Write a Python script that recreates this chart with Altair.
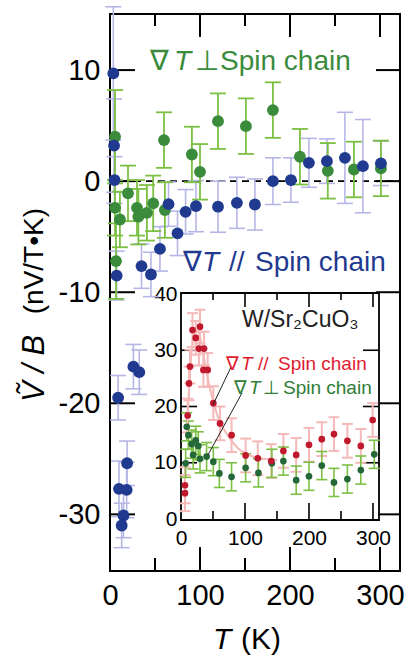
import altair as alt
import pandas as pd

# ---------------- main panel data ----------------
blue_T = [3.7, 4.5, 5.0, 7.4, 9.0, 26.0, 32.5, 19.0, 10.0, 18.5, 15.0, 13.0, 35.0, 45.5, 55.5,
          65.0, 75.0, 84.0, 95.5, 120.0, 141.0, 161.0, 181.0, 201.0, 221.0, 241.0, 261.0, 281.0, 301.0]
blue_V = [9.7, 3.2, 0.1, -8.5, -19.5, -16.7, -17.2, -25.4, -27.7, -27.8, -30.1, -31.0, -7.65, -8.4, -6.1,
          -2.07, -4.7, -2.76, -2.25, -2.3, -1.95, -2.1, 0.0, 0.1, 1.65, 1.8, 2.1, 1.35, 1.6]
blue_err = [6.0, 4.2, 2.1, 2.2, 2.0, 2.0, 2.0, 2.0, 2.5, 2.5, 2.0, 2.0, 2.0, 2.0, 2.0,
            2.0, 2.0, 2.0, 2.3, 2.3, 2.3, 2.3, 2.1, 2.0, 2.2, 2.0, 4.1, 4.2, 2.0]

green_T = [5.6, 5.6, 6.7, 11.0, 20.0, 30.0, 31.5, 41.0, 48.0, 61.0, 60.0, 91.0, 100.0, 120.0, 151.0,
           181.0, 211.0, 242.0, 271.0, 301.0]
green_V = [4.0, -2.4, -7.2, -3.45, -1.1, -2.4, -3.2, -2.85, -2.0, -2.6, 3.7, 2.4, 0.84, 5.4, 4.95,
           6.4, 2.2, 0.93, 1.05, 1.15]
green_err = [4.2, 2.5, 3.4, 2.5, 2.5, 2.5, 2.5, 2.5, 2.5, 2.5, 2.5, 2.5, 2.5, 2.5, 2.5,
             2.5, 2.5, 2.5, 2.5, 2.5]

# ---------------- inset data (W/Sr2CuO3) ----------------
red_T = [6.2, 6.2, 10.4, 12.5, 14.0, 18.0, 23.0, 28.0, 29.7, 35.0, 36.0, 41.7, 50.5, 61.0, 79.0,
         101.0, 120.0, 141.0, 160.0, 180.0, 200.0, 220.0, 239.0, 260.0, 281.0, 299.5]
red_V = [6.0, 4.6, 18.4, 24.1, 27.1, 33.6, 32.2, 30.3, 34.2, 26.5, 30.3, 26.5, 20.6, 17.0, 14.9,
         11.3, 10.8, 10.3, 12.1, 11.4, 13.2, 14.2, 15.1, 13.9, 13.0, 17.6]
red_err = [3.2, 3.2, 3.0, 3.0, 3.0, 3.0, 3.0, 3.0, 3.0, 3.0, 3.0, 3.0, 3.0, 3.0, 3.0,
           3.0, 3.0, 3.0, 3.0, 3.0, 3.0, 3.0, 3.0, 3.0, 3.0, 3.0]

ig_T = [7.3, 9.0, 11.5, 16.7, 19.0, 23.0, 27.0, 29.7, 40.0, 50.5, 60.0, 79.0, 101.0, 121.0, 142.0,
        160.0, 180.0, 200.0, 220.0, 239.0, 260.0, 281.0, 302.0]
ig_V = [9.9, 16.4, 14.9, 13.3, 11.4, 14.0, 13.0, 10.7, 11.1, 10.2, 8.1, 7.5, 9.1, 8.2, 9.9,
        10.3, 6.9, 7.6, 9.5, 6.5, 7.1, 8.7, 11.5]
ig_err = [2.5, 2.5, 2.5, 2.5, 2.5, 2.5, 2.5, 2.5, 2.5, 2.5, 2.5, 2.5, 2.5, 2.5, 2.5,
          2.5, 2.5, 2.5, 2.5, 2.5, 2.5, 2.5, 2.5]

guide_T = [9, 12, 16, 21, 27, 33, 40, 50, 60, 75, 90, 110, 130, 150]
guide_V = [15, 22, 29, 33, 33.5, 30.5, 26, 21, 17.5, 14.5, 12.5, 11.2, 10.7, 10.5]

# leader lines (inset coordinates)
lead_T0 = [78.1, 95.3]
lead_V0 = [27.0, 22.4]
lead_T1 = [50.0, 42.2]
lead_V1 = [20.3, 11.4]

# ticks / labels
main_x_labels = [0, 100, 200, 300]
main_x_major = [100, 200, 300]
main_x_minor = [50, 150, 250]
main_y_labels = [10, 0, -10, -20, -30]
zero_line = [0]
ins_x_labels = [0, 100, 200, 300]
ins_x_major = [100, 200, 300]
ins_x_minor = [50, 150, 250]
ins_y_labels = [0, 10, 20, 30, 40]
ins_y_major = [10, 20, 30]

# ---------------- styling ----------------
W, H = 290, 557
FONT = "Liberation Sans"
BLUE = "#1f3a8f"
LAV = "#b6b6e6"
GREEN = "#3a8b3c"
LGREEN = "#7cc043"
RED = "#c0182d"
PINK = "#f5b9b9"
DGREEN = "#24683a"

main_x = alt.Scale(domain=[0, 322.2], nice=False, zero=False)
main_y = alt.Scale(domain=[-35.1, 15.05], nice=False, zero=False)
INS_XD = [0, 309.4]
INS_YD = [-0.18, 40.18]
ins_x = alt.Scale(domain=[0, 309.4], range=[71, 269], nice=False, zero=False)
ins_y = alt.Scale(domain=[0, 40], range=[505, 280], nice=False, zero=False)


def series_df(T, V, E):
    return pd.DataFrame({"T": T, "V": V,
                         "lo": [v - e for v, e in zip(V, E)],
                         "hi": [v + e for v, e in zip(V, E)]})


def errbars(df, xs, ys, color, cap, sw):
    base = alt.Chart(df)
    X = alt.X("T:Q", scale=xs, axis=None)
    rule = base.mark_rule(color=color, strokeWidth=sw).encode(
        x=X, y=alt.Y("lo:Q", scale=ys, axis=None), y2="hi:Q")
    top = base.mark_tick(color=color, orient="horizontal", size=cap, thickness=sw, opacity=1).encode(
        x=X, y=alt.Y("hi:Q", scale=ys, axis=None))
    bot = base.mark_tick(color=color, orient="horizontal", size=cap, thickness=sw, opacity=1).encode(
        x=X, y=alt.Y("lo:Q", scale=ys, axis=None))
    return [rule, top, bot]


def points(df, xs, ys, color, size, xaxis=None, yaxis=None):
    return alt.Chart(df).mark_circle(color=color, size=size, opacity=1).encode(
        x=alt.X("T:Q", scale=xs, axis=xaxis), y=alt.Y("V:Q", scale=ys, axis=yaxis))


def txt(s, x, y, size, color="black", italic=False, align="left", angle=0):
    return alt.Chart(pd.DataFrame({"s": [s]})).mark_text(
        align=align, baseline="middle", fontSize=size, color=color, font=FONT,
        fontStyle="italic" if italic else "normal", angle=angle).encode(
        x=alt.value(x), y=alt.value(y), text="s:N")


def xticks(vals, xs, y0, y1, sw=2):
    return alt.Chart(pd.DataFrame({"t": vals})).mark_rule(color="black", strokeWidth=sw).encode(
        x=alt.X("t:Q", scale=xs, axis=None), y=alt.value(y0), y2=alt.value(y1))


def yticks(vals, ys, x0, x1, sw=2):
    return alt.Chart(pd.DataFrame({"t": vals})).mark_rule(color="black", strokeWidth=sw).encode(
        y=alt.Y("t:Q", scale=ys, axis=None), x=alt.value(x0), x2=alt.value(x1))


blue_df = series_df(blue_T, blue_V, blue_err)
green_df = series_df(green_T, green_V, green_err)
red_df = series_df(red_T, red_V, red_err)
ig_df = series_df(ig_T, ig_V, ig_err)

layers = []
# main ticks (inward)
layers += [xticks(main_x_major, main_x, 0, 23), xticks(main_x_minor, main_x, 0, 12),
           xticks(main_x_major, main_x, H, H - 24), xticks(main_x_minor, main_x, H, H - 13),
           yticks(main_y_labels, main_y, 0, 25), yticks(main_y_labels, main_y, W, W - 24)]
# zero line
layers.append(alt.Chart(pd.DataFrame({"z": zero_line})).mark_rule(
    color="black", strokeWidth=1.6, strokeDash=[7, 5]).encode(
    y=alt.Y("z:Q", scale=main_y, axis=None), x=alt.value(0), x2=alt.value(W)))
# main data
layers += errbars(blue_df, main_x, main_y, LAV, 16, 1.6)
layers += errbars(green_df, main_x, main_y, LGREEN, 16, 1.8)
layers.append(points(green_df, main_x, main_y, GREEN, 140))
main_xaxis = alt.Axis(values=main_x_labels, ticks=False, domain=False, grid=False, labelFontSize=29,
                      labelFont=FONT, labelPadding=10, title=None, labelColor="black", labelFlush=False,
                      labelOverlap=False, labelExpr="'' + datum.value", orient="bottom")
main_yaxis = alt.Axis(values=main_y_labels, ticks=False, domain=False, grid=False, labelFontSize=29,
                      labelFont=FONT, labelPadding=10, title=None, labelColor="black", labelFlush=False,
                      labelOverlap=False, labelExpr="'' + datum.value", orient="left")
layers.append(points(blue_df, main_x, main_y, BLUE, 140, main_xaxis, main_yaxis))

# inset frame
frame_df = pd.DataFrame({"x0": [INS_XD[0]], "x1": [INS_XD[1]], "y0": [INS_YD[0]], "y1": [INS_YD[1]]})
layers.append(alt.Chart(frame_df).mark_rect(fill="white", stroke="black", strokeWidth=1.8).encode(
    x=alt.X("x0:Q", scale=ins_x, axis=None), x2="x1:Q",
    y=alt.Y("y0:Q", scale=ins_y, axis=None), y2="y1:Q"))
# inset ticks
layers += [xticks(ins_x_major, ins_x, 506, 489, 1.6), xticks(ins_x_minor, ins_x, 506, 497, 1.6),
           xticks(ins_x_major, ins_x, 279, 293, 1.6), xticks(ins_x_minor, ins_x, 279, 286, 1.6),
           yticks(ins_y_major, ins_y, 71, 87, 1.6), yticks(ins_y_major, ins_y, 269, 253, 1.6)]
# inset data
layers += errbars(red_df, ins_x, ins_y, PINK, 11, 2)
layers += errbars(ig_df, ins_x, ins_y, LGREEN, 11, 1.6)
layers.append(alt.Chart(pd.DataFrame({"T": guide_T, "V": guide_V})).mark_line(
    color=PINK, strokeWidth=2, interpolate="monotone").encode(
    x=alt.X("T:Q", scale=ins_x, axis=None), y=alt.Y("V:Q", scale=ins_y, axis=None)))
layers.append(points(ig_df, ins_x, ins_y, DGREEN, 45))
ins_xaxis = alt.Axis(values=ins_x_labels, ticks=False, domain=False, grid=False, labelFontSize=21,
                     labelFont=FONT, labelPadding=7, title=None, labelColor="black", labelFlush=False,
                     labelOverlap=False, orient="bottom", offset=-51)
ins_yaxis = alt.Axis(values=ins_y_labels, ticks=False, domain=False, grid=False, labelFontSize=21,
                     labelFont=FONT, labelPadding=4, title=None, labelColor="black", labelFlush=False,
                     labelOverlap=False, orient="left", offset=-71)
layers.append(points(red_df, ins_x, ins_y, RED, 45, ins_xaxis, ins_yaxis))
# leader lines
layers.append(alt.Chart(pd.DataFrame({"a": lead_T0, "b": lead_V0, "c": lead_T1, "d": lead_V1})).mark_rule(
    color="#222222", strokeWidth=1).encode(
    x=alt.X("a:Q", scale=ins_x, axis=None), x2="c:Q",
    y=alt.Y("b:Q", scale=ins_y, axis=None), y2="d:Q"))

# texts (pixel offsets from plot origin)
layers += [
    txt("∇", 40, 48, 28, GREEN), txt("T", 64, 48, 28, GREEN, italic=True),
    txt("⊥", 85, 48, 28, GREEN), txt("Spin chain", 110, 48, 28, GREEN),
    txt("∇", 73, 249, 28, BLUE), txt("T", 92, 249, 28, BLUE, italic=True),
    txt("//", 119, 249, 28, BLUE), txt("Spin chain", 145, 249, 28, BLUE),
    txt("W/Sr₂CuO₃", 132, 306, 23, "#222222"),
    txt("∇", 116, 350, 19, "#e11a30"), txt("T", 131, 350, 19, "#e11a30", italic=True),
    txt("//", 148, 350, 19, "#e11a30"), txt("Spin chain", 168, 350, 19, "#e11a30"),
    txt("∇", 124, 374, 19, "#2f7d36"), txt("T", 139, 374, 19, "#2f7d36", italic=True),
    txt("⊥", 153, 374, 19, "#2f7d36"), txt("Spin chain", 173, 374, 19, "#2f7d36"),
    txt("Ṽ / B", -75, 388, 31, "black", italic=True, angle=270),
    txt("(nV/T•K)", -75, 194, 28, "black", align="right", angle=270),
    txt("T", 103, 626, 30, "black", italic=True),
    txt("(K)", 131, 626, 30, "black"),
]

chart = alt.layer(*layers).resolve_scale(x="independent", y="independent").properties(
    width=W, height=H,
    autosize=alt.AutoSizeParams(type="none"),
    padding={"left": 110, "top": 14, "right": 9, "bottom": 85},
).configure_view(stroke="black", strokeWidth=2).configure_axis(grid=False)

chart.save("out.html", embed_options={"renderer": "svg", "actions": False})
